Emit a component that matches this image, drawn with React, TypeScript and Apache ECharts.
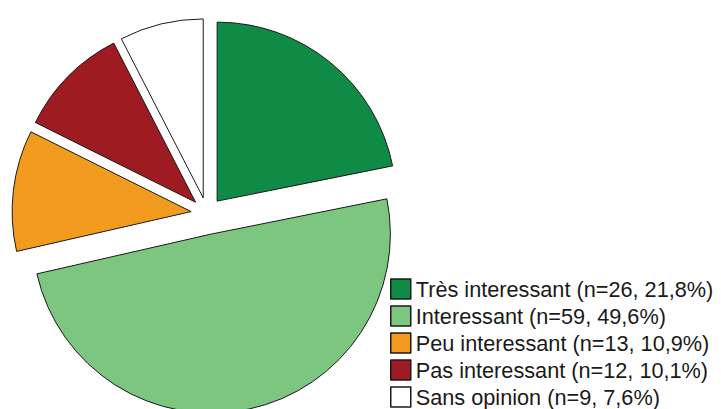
import React, { useEffect, useRef } from "react";
import * as echarts from "echarts";

const categories = [
  "Très interessant (n=26, 21,8%)",
  "Interessant (n=59, 49,6%)",
  "Peu interessant (n=13, 10,9%)",
  "Pas interessant (n=12, 10,1%)",
  "Sans opinion (n=9, 7,6%)",
];
const counts = [26, 59, 13, 12, 9];
const colors = ["#0f8b46", "#7cc67f", "#f39b1f", "#9e1b21", "#ffffff"];
const bigIndex = 1; // slice exploded further

export default function App() {
  const ref = useRef<HTMLDivElement>(null);
  useEffect(() => {
    if (!ref.current) return;
    const chart = echarts.init(ref.current, undefined, { renderer: "svg" });
    const border = { borderColor: "#1a1a1a", borderWidth: 1 };
    const hidden = { color: "rgba(0,0,0,0)", borderWidth: 0 };
    const common = {
      type: "pie" as const,
      center: [207, 213.5],
      radius: 179,
      startAngle: 90,
      clockwise: true,
      selectedMode: "multiple" as const,
      label: { show: false },
      labelLine: { show: false },
      emphasis: { disabled: true, scale: false },
      silent: true,
      avoidLabelOverlap: false,
    };
    chart.setOption({
      animation: false,
      legend: {
        orient: "vertical",
        left: 390,
        top: 278,
        padding: 0,
        itemWidth: 20,
        itemHeight: 20,
        itemGap: 5,
        icon: "rect",
        selectedMode: false,
        textStyle: {
          fontFamily: "Liberation Sans, Arial, sans-serif",
          fontSize: 21.7,
          lineHeight: 21,
          color: "#1a1a1a",
        },
        data: categories.map((name, i) => ({
          name,
          itemStyle: { color: colors[i], borderColor: "#1a1a1a", borderWidth: 1.5 },
        })),
      },
      series: [
        {
          ...common,
          name: "main",
          selectedOffset: 16,
          data: categories.map((name, i) => ({
            name,
            value: counts[i],
            selected: i !== bigIndex,
            itemStyle: i === bigIndex ? hidden : { color: colors[i], ...border },
          })),
        },
        {
          ...common,
          name: "big",
          selectedOffset: 21,
          data: categories.map((name, i) => ({
            name,
            value: counts[i],
            selected: i === bigIndex,
            itemStyle: i === bigIndex ? { color: colors[i], ...border } : hidden,
          })),
        },
      ],
    });
    return () => chart.dispose();
  }, []);
  return (
    <div
      style={{ position: "fixed", left: 0, top: 0, width: 721, height: 409, overflow: "hidden", background: "#fff" }}
    >
      <div ref={ref} style={{ width: 721, height: 480 }} />
    </div>
  );
}
